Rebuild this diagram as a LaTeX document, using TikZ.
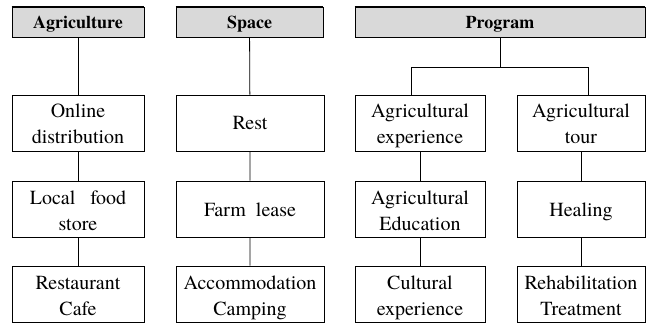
\documentclass[tikz,border=0pt]{standalone}
\usepackage{fontspec}
\setmainfont{TeX Gyre Termes}
\usetikzlibrary{positioning}

\tikzset{
  item/.style={draw, line width=0.8pt, align=center, inner sep=0pt,
    minimum height=56pt, text height=42pt, text depth=0pt,
    font=\fontsize{20}{26}\selectfont},
  single/.style={text height=14pt},
  head/.style={draw, line width=0.8pt, fill=gray!30, align=center, inner sep=0pt,
    minimum height=30pt, text height=14pt, text depth=0pt,
    font=\fontsize{18}{22}\selectfont\bfseries},
  link/.style={line width=0.8pt}
}

\begin{document}
\begin{tikzpicture}[x=1pt,y=-1pt]
\useasboundingbox (0,0) rectangle (652,323);

% header row
\node[head, minimum width=132pt] (agr) at (78,22) {Agriculture};
\node[head, minimum width=147pt] (spa) at (249.5,22) {Space};
\node[head, minimum width=290pt] (prg) at (500,22) {Program};
\foreach \h in {agr,spa,prg}
  \draw [line width=1.8pt] (\h.north west)--(\h.north east); % top rule

% agriculture column
\node[item, minimum width=132pt] (onl) at (78,123) {Online\\distribution};
\node[item, minimum width=132pt] (loc) at (78,209) {Local\ \ \ food\\store};
\node[item, minimum width=132pt] (res) at (78,294) {Restaurant\\Cafe};

% space column
\node[item, single, minimum width=148pt] (rst) at (250,123) {Rest};
\node[item, single, minimum width=148pt] (frm) at (250,209) {Farm\ \ lease};
\node[item, minimum width=148pt] (acc) at (250,294) {Accommodation\\Camping};

% program columns
\node[item, minimum width=130pt] (aex) at (420,123) {Agricultural\\experience};
\node[item, minimum width=130pt] (aed) at (420,209) {Agricultural\\Education};
\node[item, minimum width=130pt] (cex) at (420,294) {Cultural\\experience};
\node[item, minimum width=128pt] (tou) at (581,123) {Agricultural\\tour};
\node[item, single, minimum width=128pt] (hea) at (581,209) {Healing};
\node[item, minimum width=128pt] (reh) at (581,294) {Rehabilitation\\Treatment};

\draw [link] (agr)--(onl)--(loc)--(res);
\draw [link] (spa)--(rst)--(frm)--(acc);
\draw [link] (aex)--(aed)--(cex);
\draw [link] (tou)--(hea)--(reh);

% branch
\coordinate (bl) at (411,67);
\coordinate (br) at (588,67);
\draw [link] (prg.south)--(prg.south |- bl);
\draw [link] (aex.north -| bl)--(bl)--(br)--(tou.north -| br);
\end{tikzpicture}
\end{document}
